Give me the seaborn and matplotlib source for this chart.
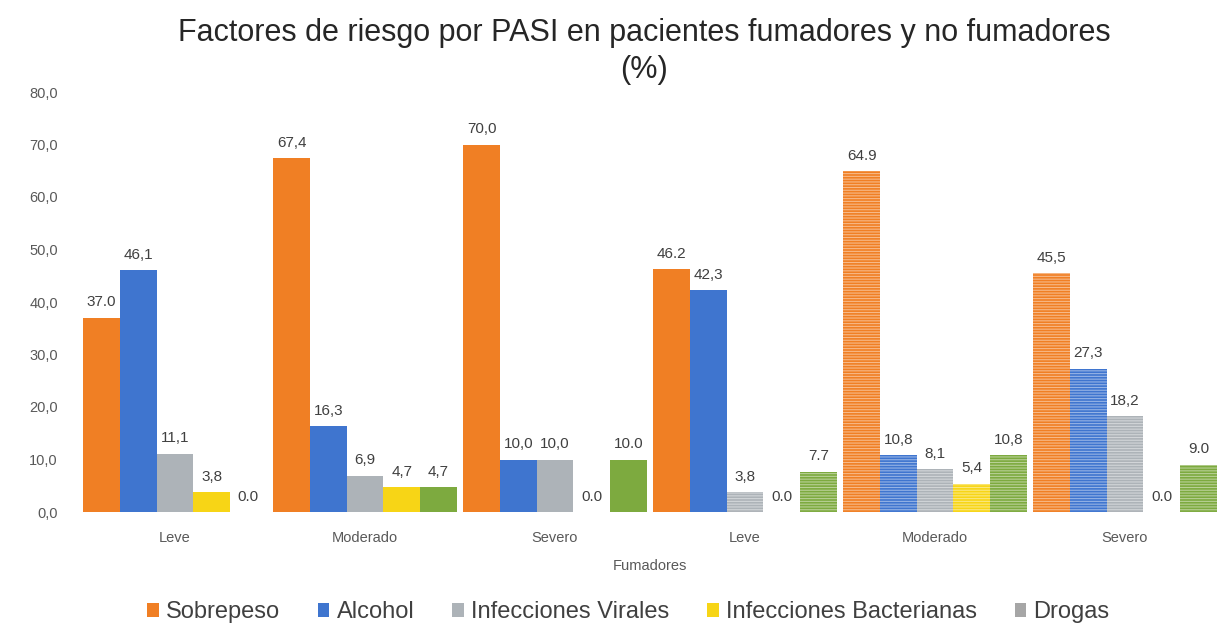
import pandas as pd
import matplotlib
matplotlib.use("Agg")
import matplotlib.pyplot as plt
import seaborn as sns
from matplotlib.patches import Patch
from matplotlib.colors import to_rgb


# =========================
# datos
# =========================
group_keys = ["F-Leve", "F-Moderado", "F-Severo", "NF-Leve", "NF-Moderado", "NF-Severo"]
tick_labels = ["Leve", "Moderado", "Severo", "Leve", "Moderado", "Severo"]
series = ["Sobrepeso", "Alcohol", "Infecciones Virales", "Infecciones Bacterianas", "Drogas"]

sobrepeso = [37.0, 67.4, 70.0, 46.2, 64.9, 45.5]
alcohol = [46.1, 16.3, 10.0, 42.3, 10.8, 27.3]
virales = [11.1, 6.9, 10.0, 3.8, 8.1, 18.2]
bacterianas = [3.8, 4.7, 0.0, 0.0, 5.4, 0.0]
drogas = [0.0, 4.7, 10.0, 7.7, 10.8, 9.0]

# etiquetas tal como aparecen en el grafico original
lab_sobrepeso = ["37.0", "67,4", "70,0", "46.2", "64.9", "45,5"]
lab_alcohol = ["46,1", "16,3", "10,0", "42,3", "10,8", "27,3"]
lab_virales = ["11,1", "6,9", "10,0", "3,8", "8,1", "18,2"]
lab_bacterianas = ["3,8", "4,7", "0.0", "0.0", "5,4", "0.0"]
lab_drogas = ["0.0", "4,7", "10.0", "7.7", "10,8", "9.0"]

y_ticks = [0, 10, 20, 30, 40, 50, 60, 70, 80]

values = [sobrepeso, alcohol, virales, bacterianas, drogas]
labels = [lab_sobrepeso, lab_alcohol, lab_virales, lab_bacterianas, lab_drogas]

colors = ["#F07F24", "#3F75CF", "#ADB3B8", "#F7D516", "#7DAA3F"]
legend_colors = ["#F07F24", "#3F75CF", "#ADB3B8", "#F7D516", "#A6A6A6"]
# primer indice de serie rayada en cada grupo (5 = ninguna)
hatch_from = [5, 5, 5, 2, 0, 0]

df = pd.DataFrame({
    "grupo": group_keys * len(series),
    "serie": [s for s in series for _ in group_keys],
    "valor": [v for vals in values for v in vals],
})

# =========================
# figura
# =========================
sns.set_style("white")
plt.rcParams["font.family"] = ["Liberation Sans", "DejaVu Sans"]
plt.rcParams["hatch.linewidth"] = 0.8

fig = plt.figure(figsize=(12.2, 6.41), dpi=100)
ax = fig.add_axes([80 / 1220, 129 / 641, 1140 / 1220, 420 / 641])

sns.barplot(
    data=df, x="grupo", y="valor", hue="serie",
    order=group_keys, hue_order=series, palette=colors, saturation=1,
    width=0.965, gap=0, linewidth=0, legend=False, ax=ax,
)

for si, cont in enumerate(ax.containers):
    for gi, bar in enumerate(cont):
        if si >= hatch_from[gi]:
            r, g, b = to_rgb(colors[si])
            light = (r + (1 - r) * 0.45, g + (1 - g) * 0.45, b + (1 - b) * 0.45)
            bar.set_hatch("------")
            bar.set_edgecolor(light)
            bar.set_linewidth(0)
    ax.bar_label(cont, labels=labels[si], padding=6, fontsize=11, color="#404040")

ax.set_ylim(0, 80)
ax.set_xlim(-0.5, 5.5)
ax.set_yticks(y_ticks)
ax.set_yticklabels([f"{t:.1f}".replace(".", ",") for t in y_ticks], fontsize=10.5, color="#595959")
ax.set_xticks(range(len(tick_labels)))
ax.set_xticklabels(tick_labels, fontsize=10.5, color="#595959")
ax.tick_params(axis="y", length=0, pad=16)
ax.tick_params(axis="x", length=0, pad=14)
ax.set_xlabel("Fumadores", fontsize=10.5, color="#595959", labelpad=10)
ax.set_ylabel("")
sns.despine(ax=ax, left=True, bottom=True, top=True, right=True)

fig.suptitle("Factores de riesgo por PASI en pacientes fumadores y no fumadores\n(%)",
             x=0.528, y=0.972, fontsize=22, color="#262626", linespacing=1.3)

handles = [Patch(facecolor=c, edgecolor="none") for c in legend_colors]
fig.legend(handles, series, loc="center", bbox_to_anchor=(0.515, 0.045), ncol=5,
           frameon=False, fontsize=17, handlelength=0.5, handleheight=0.5,
           handletextpad=0.3, columnspacing=1.6, labelcolor="#404040")

fig.savefig("out.png", dpi=100)
